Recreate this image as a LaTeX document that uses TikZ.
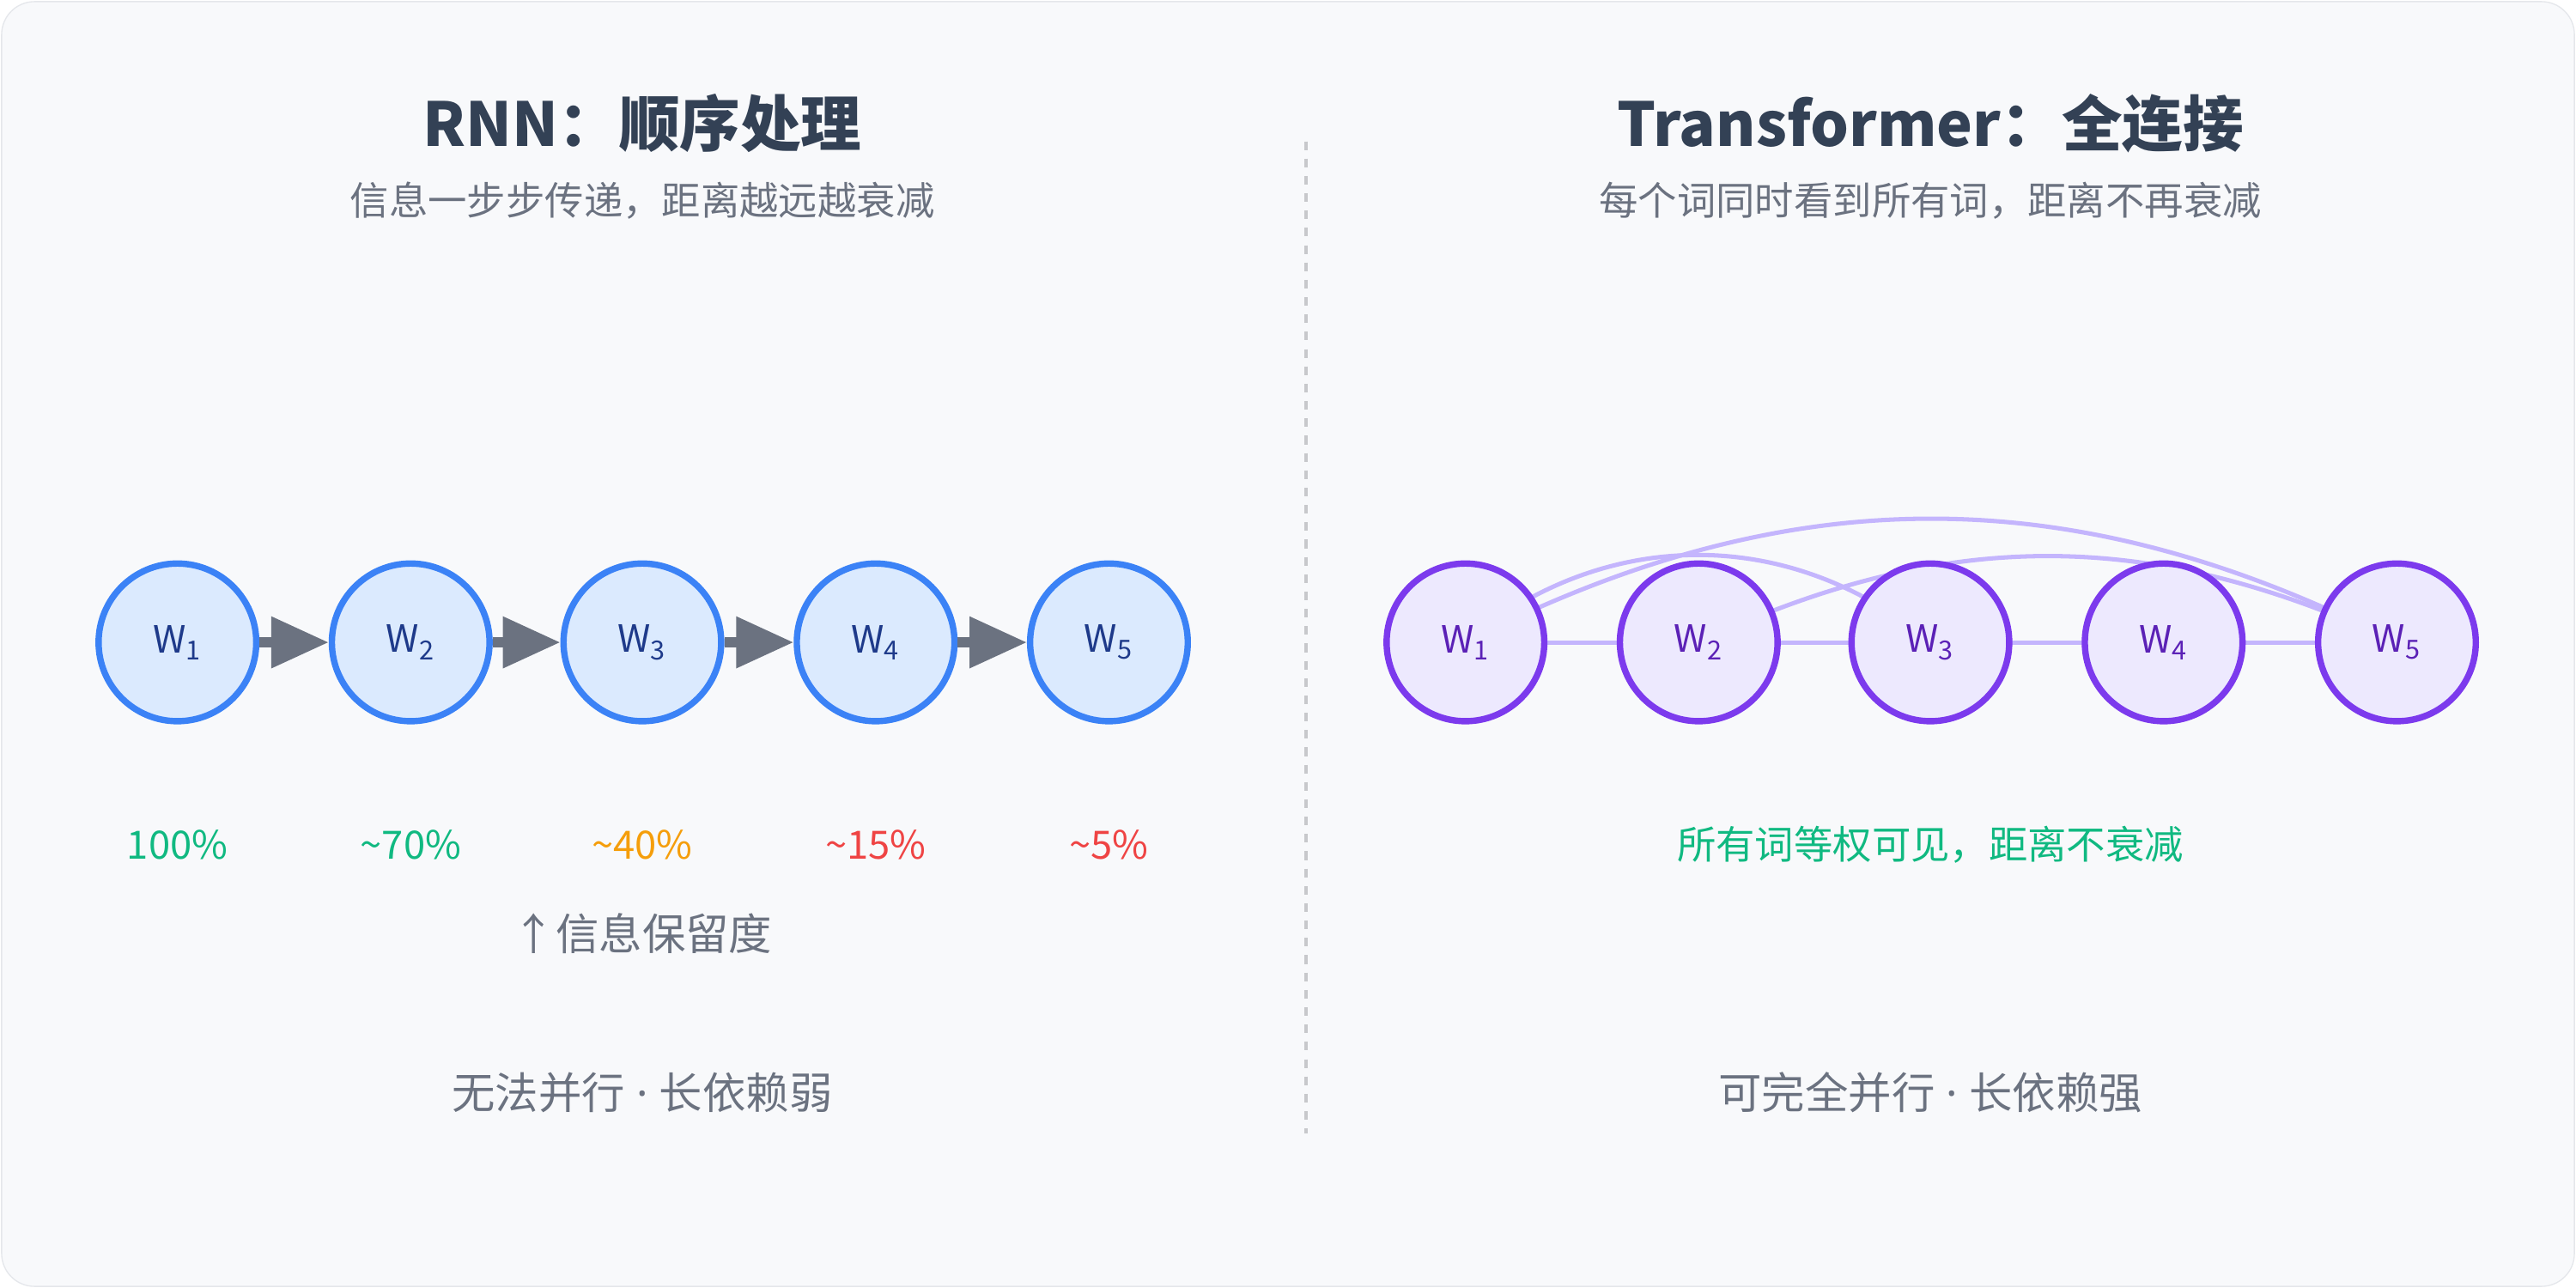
\documentclass[tikz,border=0pt]{standalone}
\usepackage{fontspec}
\setmainfont{Noto Sans CJK SC}
\newfontfamily\latinfont{Noto Sans}
\usetikzlibrary{arrows.meta}
\definecolor{bgpanel}{HTML}{F8F9FB}
\definecolor{bordergray}{HTML}{E5E7EB}
\definecolor{titlecol}{HTML}{334155}
\definecolor{subcol}{HTML}{6B7280}
\definecolor{rnnline}{HTML}{3B82F6}
\definecolor{rnnfill}{HTML}{DBEAFE}
\definecolor{rnntext}{HTML}{1E3A8A}
\definecolor{trline}{HTML}{7C3AED}
\definecolor{trfill}{HTML}{EDE9FE}
\definecolor{trtext}{HTML}{5B21B6}
\definecolor{trlink}{HTML}{C4B5FD}
\definecolor{goodcol}{HTML}{10B981}
\definecolor{midcol}{HTML}{F59E0B}
\definecolor{badcol}{HTML}{EF4444}
\begin{document}
\begin{tikzpicture}[
    x=0.02cm, y=-0.02cm,
    title/.style={font=\fontsize{21}{25}\selectfont\bfseries, text=titlecol},
    subtitle/.style={font=\fontsize{13.5}{16}\selectfont, text=subcol},
    word/.style={circle, minimum size=1.92cm, line width=2.2pt, font=\fontsize{13}{15}\selectfont},
    rnnword/.style={word, draw=rnnline, fill=rnnfill, text=rnntext},
    trword/.style={word, draw=trline, fill=trfill, text=trtext},
    pct/.style={font=\fontsize{13.5}{16}\selectfont},
    note/.style={font=\fontsize{15}{18}\selectfont, text=subcol},
    flow/.style={-{Triangle[length=0.7cm, width=0.6cm]}, line width=3.5pt, draw=subcol},
    link/.style={line width=1.5pt, draw=trlink}
  ]

  % background panel
  \fill[white] (0,0) rectangle (1568,784);
  \draw[fill=bgpanel, draw=bordergray, rounded corners=0.4cm] (1,1) rectangle (1567,783);
  \draw[bordergray!70!gray, dashed, line width=1pt] (795,86) -- (795,690);

  % RNN side (left)
  \node[title] (rnntitle) at (391,75) {RNN：顺序处理};
  \node[subtitle] (rnnsub) at (391,122) {信息一步步传递，距离越远越衰减};

  \foreach \i/\x in {1/108, 2/250, 3/391, 4/533, 5/675}
    \node[rnnword] (r\i) at (\x,391) {W\textsubscript{\i}};
  \foreach \a/\b in {1/2, 2/3, 3/4, 4/5}
    \draw[flow] (r\a) -- (r\b);

  \node[pct, text=goodcol] (p1) at (108,514) {100\%};
  \node[pct, text=goodcol] (p2) at (250,514) {\textasciitilde70\%};
  \node[pct, text=midcol] (p3) at (391,514) {\textasciitilde40\%};
  \node[pct, text=badcol] (p4) at (533,514) {\textasciitilde15\%};
  \node[pct, text=badcol] (p5) at (675,514) {\textasciitilde5\%};
  \node[note] (keep) at (391,568) {↑信息保留度};
  \node[note] (rnnfoot) at (391,665) {无法并行{\latinfont\ · }长依赖弱};

  % Transformer side (right)
  \node[title] (trtitle) at (1175,75) {Transformer：全连接};
  \node[subtitle] (trsub) at (1175,122) {每个词同时看到所有词，距离不再衰减};

  \foreach \i/\x in {1/892, 2/1034, 3/1175, 4/1317, 5/1459}
    \coordinate (c\i) at (\x,391);
  \foreach \a/\b in {1/2, 2/3, 3/4, 4/5}
    \draw[link] (c\a) -- (c\b);
  \draw[link] (c1) to[bend left=40] (c3);
  \draw[link] (c1) to[bend left=27] (c5);
  \draw[link] (c2) to[bend left=25] (c5);
  \foreach \i in {1,...,5}
    \node[trword] (t\i) at (c\i) {W\textsubscript{\i}};

  \node[pct, text=goodcol] (equal) at (1175,514) {所有词等权可见，距离不衰减};
  \node[note] (trfoot) at (1175,665) {可完全并行{\latinfont\ · }长依赖强};

\end{tikzpicture}
\end{document}
